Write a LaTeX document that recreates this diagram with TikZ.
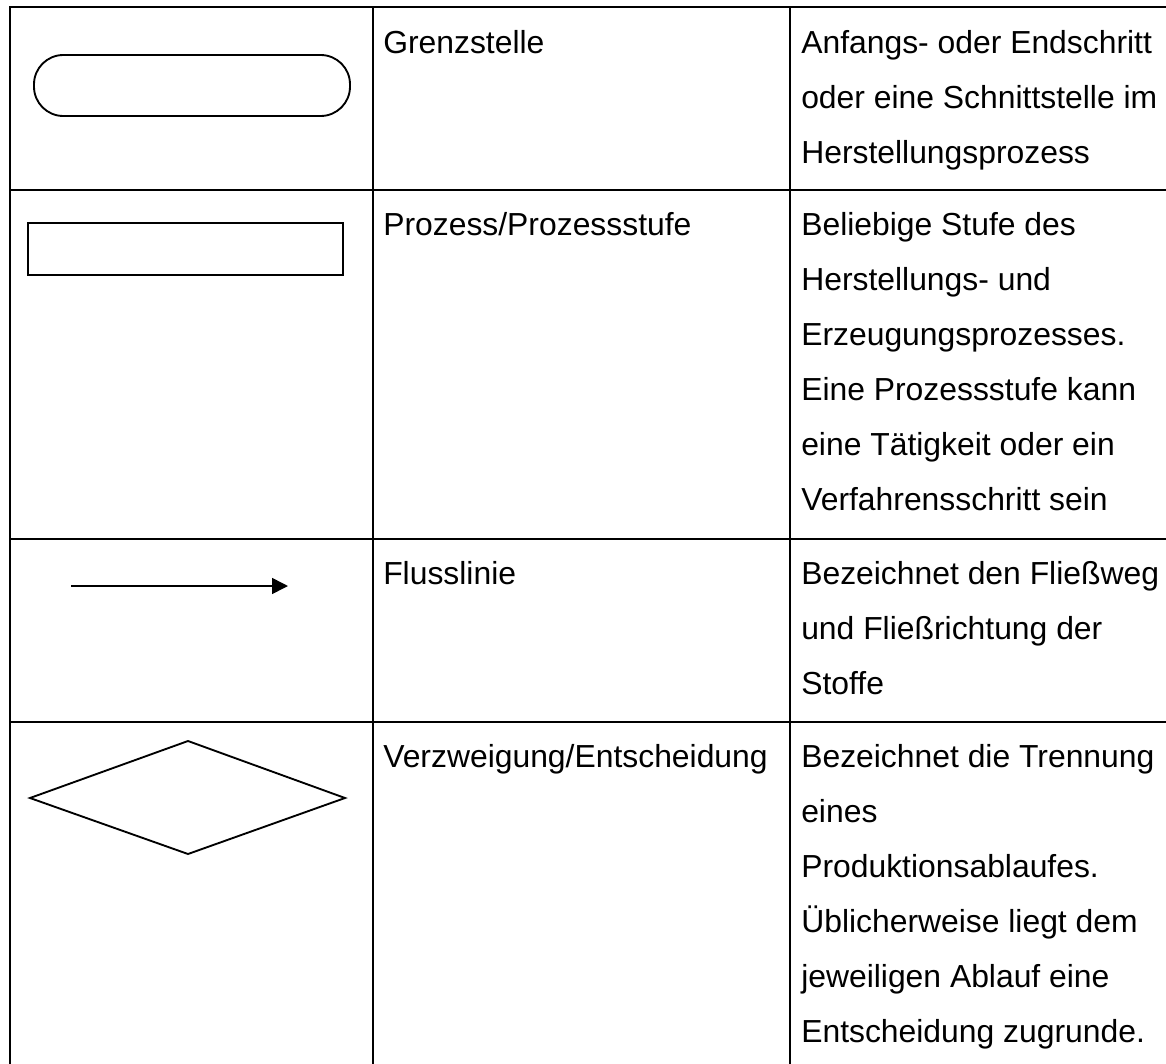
\documentclass[tikz,border=0pt]{standalone}
\usepackage{fontspec}
\setmainfont{Liberation Sans}
\usetikzlibrary{arrows.meta}
\begin{document}
\begin{tikzpicture}[x=0.75pt,y=-0.75pt,
  gridline/.style={line width=2.1pt,line cap=rect},
  symb/.style={draw,line width=1.4pt},
  txt/.style={anchor=north west,inner sep=0pt,align=left,
              font=\fontsize{23.9}{41.25}\selectfont}]
\useasboundingbox (0,0) rectangle (1166,1063);
% grid
\coordinate (L0) at (10,7);    \coordinate (R0) at (1166,7);
\coordinate (L1) at (10,190);  \coordinate (R1) at (1166,190);
\coordinate (L2) at (10,539);  \coordinate (R2) at (1166,539);
\coordinate (L3) at (10,722);  \coordinate (R3) at (1166,722);
\coordinate (B0) at (10,1063);
\coordinate (C1t) at (373,7);  \coordinate (C1b) at (373,1063);
\coordinate (C2t) at (790,7);  \coordinate (C2b) at (790,1063);
\draw[gridline] (L0) -- (R0);
\draw[gridline] (L1) -- (R1);
\draw[gridline] (L2) -- (R2);
\draw[gridline] (L3) -- (R3);
\draw[gridline] (L0) -- (B0);
\draw[gridline] (C1t) -- (C1b);
\draw[gridline] (C2t) -- (C2b);
% symbols
\node (term) [symb,rounded corners=22pt,minimum width=237pt,minimum height=45.75pt,inner sep=0pt] at (192,85.5) {};
\node (proc) [symb,minimum width=236.25pt,minimum height=39pt,inner sep=0pt] at (185.5,249) {};
\coordinate (a1) at (71,586);
\coordinate (a2) at (288,586);
\draw[line width=1.2pt,-{Triangle[length=12pt,width=12pt]}] (a1) -- (a2);
\coordinate (dl) at (30,798);
\coordinate (dt) at (188,741);
\coordinate (dr) at (345,798);
\coordinate (db) at (188,854);
\draw[symb,line join=miter] (dl) -- (dt) -- (dr) -- (db) -- cycle;
% texts column 2
\node (n1) [txt] at (383,23.67) {\rule{0pt}{22pt}Grenzstelle};
\node (n2) [txt] at (383,205.67) {\rule{0pt}{22pt}Prozess/Prozessstufe};
\node (n3) [txt] at (383,554.67) {\rule{0pt}{22pt}Flusslinie};
\node (n4) [txt] at (383,737.67) {\rule{0pt}{22pt}Verzweigung/Entscheidung};
% texts column 3
\node (d1) [txt] at (801,23.67) {\rule{0pt}{22pt}Anfangs- oder Endschritt\\oder eine Schnittstelle im\\Herstellungsprozess};
\node (d2) [txt] at (801,205.67) {\rule{0pt}{22pt}Beliebige Stufe des\\Herstellungs- und\\Erzeugungsprozesses.\\Eine Prozessstufe kann\\eine Tätigkeit oder ein\\Verfahrensschritt sein};
\node (d3) [txt] at (801,554.67) {\rule{0pt}{22pt}Bezeichnet den Fließweg\\und Fließrichtung der\\Stoffe};
\node (d4) [txt] at (801,737.67) {\rule{0pt}{22pt}Bezeichnet die Trennung\\eines\\Produktionsablaufes.\\Üblicherweise liegt dem\\jeweiligen Ablauf eine\\Entscheidung zugrunde.};
\end{tikzpicture}
\end{document}
